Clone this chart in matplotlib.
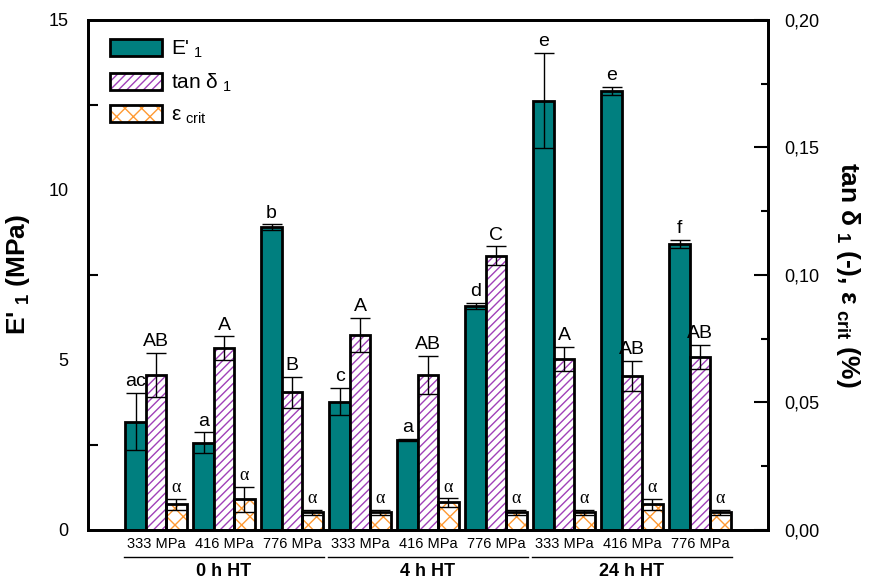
import matplotlib
matplotlib.use("Agg")
import matplotlib.pyplot as plt
import numpy as np
from matplotlib.patches import Patch
from matplotlib.legend_handler import HandlerTuple
import matplotlib.transforms as mtransforms

plt.rcParams['font.family'] = ['Liberation Sans', 'DejaVu Sans']
plt.rcParams['mathtext.default'] = 'regular'
plt.rcParams['hatch.linewidth'] = 1.0

pressures = ["333 MPa", "416 MPa", "776 MPa"] * 3
groups = ["0 h HT", "4 h HT", "24 h HT"]

E1 = [3.19, 2.57, 8.91, 3.77, 2.65, 6.59, 12.63, 12.92, 8.41]
E1_err = [0.85, 0.30, 0.08, 0.40, 0.03, 0.10, 1.40, 0.12, 0.12]
E1_lab = ["ac", "a", "b", "c", "a", "d", "e", "e", "f"]

tan1 = [0.0608, 0.0712, 0.0540, 0.0765, 0.0608, 0.1075, 0.0670, 0.0604, 0.0679]
tan1_err = [0.0087, 0.0047, 0.0061, 0.0067, 0.0075, 0.0037, 0.0047, 0.0059, 0.0047]
tan1_lab = ["AB", "A", "B", "A", "AB", "C", "A", "AB", "AB"]

eps = [0.0101, 0.0120, 0.0069, 0.0069, 0.0108, 0.0069, 0.0069, 0.0101, 0.0069]
eps_err = [0.0021, 0.0048, 0.0009, 0.0009, 0.0016, 0.0009, 0.0009, 0.0021, 0.0009]
eps_lab = ["α"] * 9

teal = "#007f7f"
purple = "#a040b8"
orange = "#ff9a33"

fig = plt.figure(figsize=(8.78, 5.81), dpi=100)
ax = fig.add_axes([0.1002, 0.0878, 0.7745, 0.8778])
ax2 = ax.twinx()

x = np.arange(1, 10)
w = 0.3

ax.bar(x - w, E1, w, color=teal, edgecolor="black", linewidth=2, zorder=2)
ax.errorbar(x - w, E1, yerr=E1_err, fmt="none", ecolor="black", elinewidth=1, capsize=7, capthick=1, zorder=3)

ax2.bar(x, tan1, w, color="white", edgecolor=purple, hatch="////", linewidth=0, zorder=2)
ax2.bar(x, tan1, w, fill=False, edgecolor="black", linewidth=2, zorder=2.5)
ax2.errorbar(x, tan1, yerr=tan1_err, fmt="none", ecolor="black", elinewidth=1, capsize=7, capthick=1, zorder=3)

ax2.bar(x + w, eps, w, color="white", edgecolor=orange, hatch="xx", linewidth=0, zorder=2)
ax2.bar(x + w, eps, w, fill=False, edgecolor="black", linewidth=2, zorder=2.5)
ax2.errorbar(x + w, eps, yerr=eps_err, fmt="none", ecolor="black", elinewidth=1, capsize=7, capthick=1, zorder=3)

# letters
for xi, v, e, t in zip(x - w, E1, E1_err, E1_lab):
    ax.annotate(t, (xi, v + e), xytext=(0, 2), textcoords="offset points", ha="center", va="bottom", fontsize=14)
for xi, v, e, t in zip(x, tan1, tan1_err, tan1_lab):
    ax2.annotate(t, (xi, v + e), xytext=(0, 2), textcoords="offset points", ha="center", va="bottom", fontsize=14)
for xi, v, e, t in zip(x + w, eps, eps_err, eps_lab):
    ax2.annotate(t, (xi, v + e), xytext=(0, 2), textcoords="offset points", ha="center", va="bottom", fontsize=13,
                 family=["Liberation Serif", "DejaVu Serif"])

ax.set_xlim(0, 10)
ax.set_ylim(0, 15)
ax2.set_ylim(0, 0.20)

ax.set_xticks(x)
ax.set_xticklabels(pressures, fontsize=10.5)
ax.tick_params(axis="x", length=0, pad=5)

ax.set_yticks([0, 5, 10, 15])
ax.set_yticklabels(["0", "5", "10", "15"], fontsize=13)
ax.set_yticks([2.5, 7.5, 12.5], minor=True)
ax.tick_params(axis="y", which="major", length=0, pad=14)
ax.tick_params(axis="y", which="minor", direction="in", length=7, width=1.5)

ax2.set_yticks([0, 0.05, 0.10, 0.15, 0.20])
ax2.set_yticklabels(["0,00", "0,05", "0,10", "0,15", "0,20"], fontsize=13)
ax2.set_yticks([0.025, 0.075, 0.125, 0.175], minor=True)
ax2.tick_params(axis="y", which="major", direction="in", length=10, width=1.5, pad=12)
ax2.tick_params(axis="y", which="minor", direction="in", length=5, width=1.5)

for a in (ax, ax2):
    for s in a.spines.values():
        s.set_linewidth(2)

ax.set_ylabel("E'$_{\\ 1}$ (MPa)", fontsize=19, fontweight="bold", labelpad=12)
ax2.set_ylabel("tan δ$_{\\ 1}$ (-), ε$_{\\ crit}$ (%)", fontsize=19, fontweight="bold", rotation=270, labelpad=30)

# group lines and labels
trans = mtransforms.blended_transform_factory(ax.transData, ax.transAxes)
for gi, g in enumerate(groups):
    x0 = 3 * gi + 1 - 0.47
    x1 = 3 * gi + 3 + 0.47
    ax.plot([x0, x1], [-0.052, -0.052], color="black", lw=1, transform=trans, clip_on=False)
    ax.text(3 * gi + 2, -0.082, g, transform=trans, ha="center", va="center", fontsize=13, fontweight="bold")

handles = [
    Patch(facecolor=teal, edgecolor="black", linewidth=2),
    (Patch(facecolor="white", edgecolor=purple, hatch="////", linewidth=0),
     Patch(fill=False, edgecolor="black", linewidth=2)),
    (Patch(facecolor="white", edgecolor=orange, hatch="xx", linewidth=0),
     Patch(fill=False, edgecolor="black", linewidth=2)),
]
labels = ["E'$_{\\ 1}$", "tan δ$_{\\ 1}$", "ε$_{\\ crit}$"]
ax2.legend(handles, labels, loc="upper left", frameon=False, fontsize=15,
           handler_map={tuple: HandlerTuple(ndivide=1, pad=0)},
           handlelength=2.5, handleheight=0.85, labelspacing=0.55, handletextpad=0.4,
           bbox_to_anchor=(0.005, 1.0))

fig.savefig("out.png", dpi=100)
